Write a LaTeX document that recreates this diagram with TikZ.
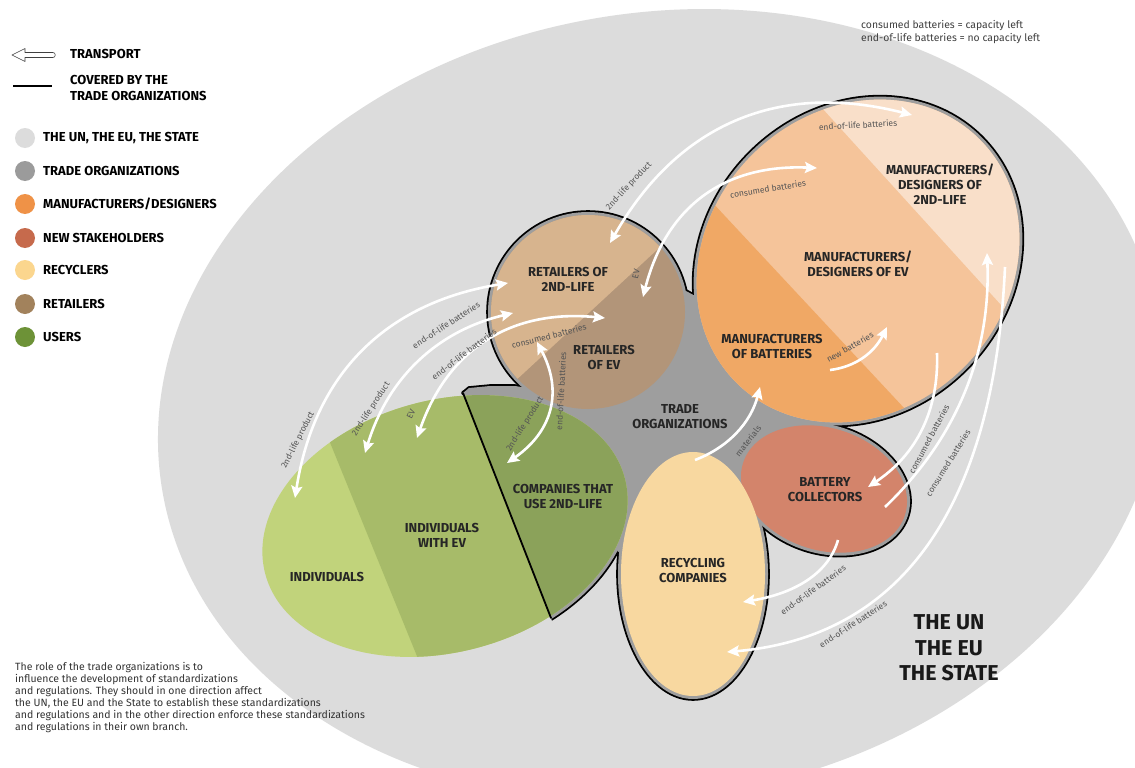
\documentclass[tikz,border=0pt]{standalone}
\usepackage{fontspec}
\setmainfont{Fira Sans}
\usetikzlibrary{arrows.meta}
\definecolor{ungray}{RGB}{220,220,220}
\definecolor{tradegray}{RGB}{158,158,158}
\definecolor{mfgbatt}{RGB}{240,168,101}
\definecolor{mfgev}{RGB}{245,196,154}
\definecolor{mfgsecond}{RGB}{249,223,201}
\definecolor{collector}{RGB}{211,132,107}
\definecolor{recycler}{RGB}{248,216,160}
\definecolor{retailsecond}{RGB}{215,180,142}
\definecolor{retailev}{RGB}{178,149,121}
\definecolor{indiv}{RGB}{193,211,123}
\definecolor{indivev}{RGB}{167,187,105}
\definecolor{company}{RGB}{139,162,90}
\definecolor{keytrade}{RGB}{155,155,155}
\definecolor{keymfg}{RGB}{239,146,71}
\definecolor{keynew}{RGB}{198,106,76}
\definecolor{keyrecycler}{RGB}{251,214,142}
\definecolor{keyretail}{RGB}{162,130,92}
\definecolor{keyuser}{RGB}{109,146,55}
\definecolor{labelgray}{RGB}{85,85,85}

\tikzset{
  shapelabel/.style={font=\bfseries\fontsize{13}{15}\selectfont, align=center, text=black!85},
  flowlabel/.style={font=\fontsize{8.5}{9}\selectfont, text=labelgray, inner sep=0pt},
  flow/.style={draw=white, line width=2.6pt, -{Stealth[length=12pt,width=11pt,inset=2pt]}},
  twoway/.style={draw=white, line width=2.6pt,
    {Stealth[length=12pt,width=11pt,inset=2pt]}-{Stealth[length=12pt,width=11pt,inset=2pt]}},
  keytext/.style={font=\bfseries\fontsize{13}{16}\selectfont, anchor=west, align=left, inner sep=0pt},
  keydot/.style={circle, minimum size=20pt, inner sep=0pt},
}

\begin{document}
\begin{tikzpicture}[x=1pt, y=-1pt]
\useasboundingbox (0,0) rectangle (1135,768);
\fill[white] (0,0) rectangle (1135,768);
\clip (0,0) rectangle (1135,768);

% the UN, the EU, the state
\fill[ungray, shift={(660,405)}, rotate=10] (0,0) ellipse [x radius=505, y radius=392];

% trade organizations: outline strokes first, then the gray fills
\begin{scope}[line width=3.6pt, line join=round]
  \draw (588,312) circle (100);
  \draw[shift={(858,261)}, rotate=45] (0,0) ellipse [x radius=175, y radius=153];
  \draw[shift={(824,489)}, rotate=-18] (0,0) ellipse [x radius=88, y radius=64];
  \draw (693,574) ellipse [x radius=75, y radius=125];
  \begin{scope}
    \clip (426,300) -- (591,720) -- (800,720) -- (800,300) -- cycle;
    \draw[shift={(445,526)}, rotate=15] (0,0) ellipse [x radius=189, y radius=129];
  \end{scope}
  \draw (686,291) -- (740,320) -- (829,424) -- (790,470) -- (757,514) -- (700,520)
    -- (618,552) -- (595,500) -- (463,393) -- (469,388) -- (490,386) -- (515,386)
    -- (540,390) -- (600,340) -- cycle;
\end{scope}
\begin{scope}[tradegray]
  \fill (588,312) circle (100);
  \fill[shift={(858,261)}, rotate=45] (0,0) ellipse [x radius=175, y radius=153];
  \fill[shift={(824,489)}, rotate=-18] (0,0) ellipse [x radius=88, y radius=64];
  \fill (693,574) ellipse [x radius=75, y radius=125];
  \begin{scope}
    \clip (426,300) -- (591,720) -- (800,720) -- (800,300) -- cycle;
    \fill[shift={(445,526)}, rotate=15] (0,0) ellipse [x radius=189, y radius=129];
  \end{scope}
  \fill (686,291) -- (740,320) -- (829,424) -- (790,470) -- (757,514) -- (700,520)
    -- (618,552) -- (595,500) -- (463,393) -- (469,388) -- (490,386) -- (515,386)
    -- (540,390) -- (600,340) -- cycle;
\end{scope}

% retailers
\begin{scope}
  \clip (588,312) circle (97);
  \fill[retailev] (480,200) rectangle (700,420);
  \fill[retailsecond] (420,469) -- (765,150) -- (420,150) -- cycle;
\end{scope}

% manufacturers / designers
\begin{scope}
  \clip[shift={(858,261)}, rotate=45] (0,0) ellipse [x radius=172, y radius=150];
  \fill[mfgev] (680,90) rectangle (1040,430);
  \fill[mfgbatt] (627,111) -- (988,498) -- (600,498) -- (600,111) -- cycle;
  \fill[mfgsecond] (743,21) -- (1093,406) -- (1093,21) -- cycle;
\end{scope}

\fill[collector, shift={(824,489)}, rotate=-18] (0,0) ellipse [x radius=85, y radius=61];
\fill[recycler] (693,574) ellipse [x radius=72, y radius=122];

% users
\begin{scope}
  \clip[shift={(445,526)}, rotate=15] (0,0) ellipse [x radius=186, y radius=126];
  \fill[indiv] (250,380) rectangle (640,680);
  \fill[indivev] (272,300) -- (443,720) -- (591,720) -- (426,300) -- cycle;
  \fill[company] (426,300) -- (591,720) -- (700,720) -- (700,300) -- cycle;
\end{scope}
\draw[line width=1.8pt, line cap=round] (463,393) -- (551,618);

% flow ends
\coordinate (ret2nd-a) at (610,243);
\coordinate (mfg2nd-a) at (912,115);
\coordinate (retev-a) at (643,297);
\coordinate (mfgev-a) at (817,168);
\coordinate (indiv-a) at (295,498);
\coordinate (ret2nd-b) at (508,283);
\coordinate (indivev-a) at (365,453);
\coordinate (ret2nd-c) at (513,313);
\coordinate (indivev-b) at (417,438);
\coordinate (retev-b) at (605,318);
\coordinate (company-a) at (507,463);
\coordinate (retev-c) at (537,342);
\coordinate (batt-a) at (830,370);
\coordinate (mfgev-b) at (887,327);
\coordinate (recyc-a) at (695,460);
\coordinate (batt-b) at (760,387);
\coordinate (mfgev-c) at (937,353);
\coordinate (coll-a) at (868,487);
\coordinate (coll-b) at (885,507);
\coordinate (mfg2nd-b) at (987,253);
\coordinate (mfg2nd-c) at (1005,267);
\coordinate (recyc-b) at (727,652);
\coordinate (coll-c) at (838,540);
\coordinate (recyc-c) at (743,602);

% flows
\draw[twoway] (ret2nd-a) .. controls (678,124) and (779,81) .. (mfg2nd-a);
\draw[twoway] (retev-a) .. controls (666,207) and (724,164) .. (mfgev-a);
\draw[twoway] (indiv-a) .. controls (314,375) and (385,303) .. (ret2nd-b);
\draw[twoway] (indivev-a) .. controls (388,378) and (437,331) .. (ret2nd-c);
\draw[twoway] (indivev-b) .. controls (448,349) and (511,309) .. (retev-b);
\draw[twoway] (company-a) .. controls (553,431) and (563,391) .. (retev-c);
\draw[flow] (batt-a) .. controls (855,367) and (874,353) .. (mfgev-b);
\draw[flow] (recyc-a) .. controls (729,447) and (751,422) .. (batt-b);
\draw[flow] (mfgev-c) .. controls (939,411) and (916,455) .. (coll-a);
\draw[flow] (coll-b) .. controls (957,438) and (991,353) .. (mfg2nd-b);
\draw[flow] (mfg2nd-c) .. controls (994,508) and (901,637) .. (recyc-b);
\draw[flow] (coll-c) .. controls (829,572) and (797,593) .. (recyc-c);

% flow labels
\node[flowlabel, rotate=47] (a1-lo) at (629,186) {2nd-life product};
\node[flowlabel, rotate=3] (a1-hi) at (858,125) {end-of-life batteries};
\node[flowlabel, rotate=78] (a2-lo) at (636,274) {EV};
\node[flowlabel, rotate=9] (a2-hi) at (768,189) {consumed batteries};
\node[flowlabel, rotate=63] (a3-lo) at (298,440) {2nd-life product};
\node[flowlabel, rotate=33] (a3-hi) at (446,325) {end-of-life batteries};
\node[flowlabel, rotate=57] (a4-lo) at (371,409) {2nd-life product};
\node[flowlabel, rotate=37] (a4-hi) at (464,354) {end-of-life batteries};
\node[flowlabel, rotate=65] (a5-lo) at (411,414) {EV};
\node[flowlabel, rotate=14] (a5-hi) at (549,336) {consumed batteries};
\node[flowlabel, rotate=58] (a6-lo) at (525,424) {2nd-life product};
\node[flowlabel, rotate=87] (a6-hi) at (561,391) {end-of-life batteries};
\node[flowlabel, rotate=30] (newbatt) at (850,347) {new batteries};
\node[flowlabel, rotate=52] (materials) at (748,441) {materials};
\node[flowlabel, rotate=62] (r1) at (929,439) {consumed batteries};
\node[flowlabel, rotate=58] (r2) at (948,463) {consumed batteries};
\node[flowlabel, rotate=33] (r3) at (853,624) {end-of-life batteries};
\node[flowlabel, rotate=36] (r4) at (813,590) {end-of-life batteries};

% stakeholder names
\node[shapelabel] (ret2nd) at (568,279) {RETAILERS OF\\2ND-LIFE};
\node[shapelabel] (retev) at (604,357) {RETAILERS\\OF EV};
\node[shapelabel] (trade) at (680,417) {TRADE\\ORGANIZATIONS};
\node[shapelabel] (mfg2nd) at (940,184) {MANUFACTURERS/\\DESIGNERS OF\\2ND-LIFE};
\node[shapelabel] (mfgev) at (858,264) {MANUFACTURERS/\\DESIGNERS OF EV};
\node[shapelabel] (mfgbatt) at (772,346) {MANUFACTURERS\\OF BATTERIES};
\node[shapelabel] (coll) at (825,490) {BATTERY\\COLLECTORS};
\node[shapelabel] (recyc) at (693,570) {RECYCLING\\COMPANIES};
\node[shapelabel] (company) at (563,496) {COMPANIES THAT\\USE 2ND-LIFE};
\node[shapelabel] (indivev) at (442,535) {INDIVIDUALS\\WITH EV};
\node[shapelabel] (indiv) at (327,577) {INDIVIDUALS};
\node[font=\bfseries\fontsize{21.5}{25.5}\selectfont, align=center, text=black!90] (state) at (949,648) {THE UN\\THE EU\\THE STATE};

% key
\draw[black!75, line width=0.6pt, fill=white, line join=round]
  (12,55) -- (25,48.5) -- (25,52.5) -- (53,52.5) .. controls (56,52.5) and (56,57.5) .. (53,57.5)
  -- (25,57.5) -- (25,61.5) -- cycle;
\node[keytext] (k-transport) at (70,54) {TRANSPORT};
\draw[line width=2pt] (13,86) -- (52,86);
\node[keytext, anchor=north west] (k-covered) at (70,75) {COVERED BY THE\\TRADE ORGANIZATIONS};
\node[keydot, fill=ungray] (d-un) at (25,138) {};
\node[keydot, fill=keytrade] (d-trade) at (25,171) {};
\node[keydot, fill=keymfg] (d-mfg) at (25,204) {};
\node[keydot, fill=keynew] (d-new) at (25,238) {};
\node[keydot, fill=keyrecycler] (d-recyc) at (25,270) {};
\node[keydot, fill=keyretail] (d-retail) at (25,304) {};
\node[keydot, fill=keyuser] (d-user) at (25,337) {};
\node[keytext] at (43,138) {THE UN, THE EU, THE STATE};
\node[keytext] at (43,171) {TRADE ORGANIZATIONS};
\node[keytext] at (43,204) {MANUFACTURERS/DESIGNERS};
\node[keytext] at (43,238) {NEW STAKEHOLDERS};
\node[keytext] at (43,270) {RECYCLERS};
\node[keytext] at (43,304) {RETAILERS};
\node[keytext] at (43,337) {USERS};

% notes
\node[anchor=north west, align=left, inner sep=0pt, text=black!75,
  font=\fontsize{10.4}{13}\selectfont] (legend-note) at (861,20)
  {consumed batteries = capacity left\\end-of-life batteries = no capacity left};
\node[anchor=north west, align=left, inner sep=0pt, text=black!80,
  font=\fontsize{10.5}{12}\selectfont] (role-note) at (15,662)
  {The role of the trade organizations is to\\
   influence the development of standardizations\\
   and regulations. They should in one direction affect\\
   the UN, the EU and the State to establish these standardizations\\
   and regulations and in the other direction enforce these standardizations\\
   and regulations in their own branch.};
\end{tikzpicture}
\end{document}
